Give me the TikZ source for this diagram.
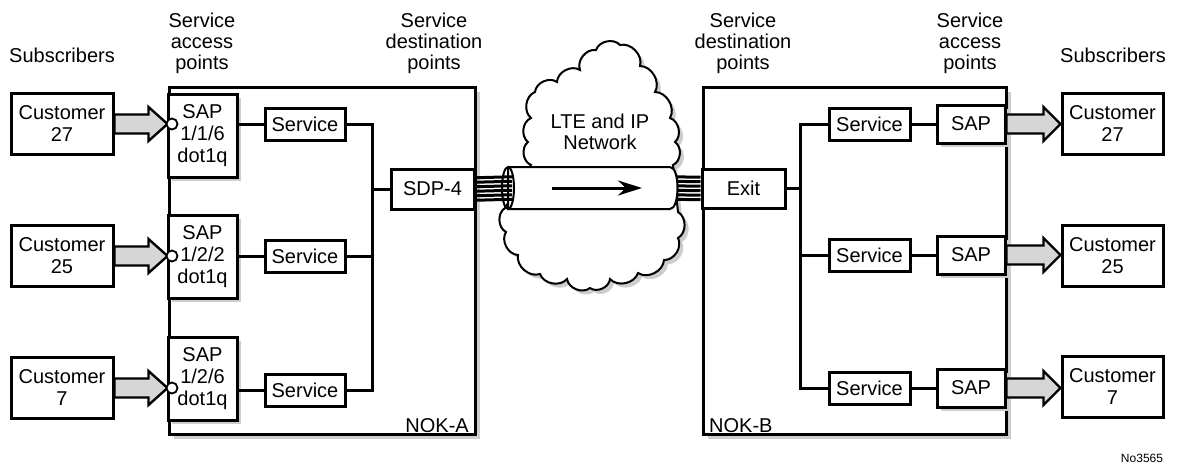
\documentclass[tikz,border=0pt]{standalone}
\usepackage{fontspec}
\setmainfont{Liberation Sans}
\usetikzlibrary{arrows.meta,shadows,calc}
\definecolor{shadowgray}{HTML}{CDCDCD}
\definecolor{arrowgray}{HTML}{D6D6D6}
\newcommand\myfs{\fontsize{20}{22}\selectfont}
\newcommand\myhfs{\fontsize{20}{21}\selectfont}
\def\mycloud{(531,165) to[bend left=60] (528,142) to[bend left=60] (531,118) to[bend left=60] (535,92)
 to[bend left=60] (557,82) to[bend left=60] (580,70) to[bend left=60] (596,50) to[bend left=60] (620,45)
 to[bend left=60] (640,66) to[bend left=60] (655,92) to[bend left=60] (670,118) to[bend left=60] (675,142)
 to[bend left=60] (673,165) -- (678,212) to[bend left=60] (678,238) to[bend left=60] (664,260)
 to[bend left=60] (638,273) to[bend left=60] (610,279) to[bend left=60] (590,288) to[bend left=60] (567,279)
 to[bend left=60] (540,274) to[bend left=60] (518,255) to[bend left=60] (506,232) to[bend left=60] (505,208) -- cycle}
\tikzset{
  box/.style={draw, line width=3pt, fill=white, inner sep=0pt, font=\myfs, align=center},
  shbox/.style={box, drop shadow={shadow xshift=4pt, shadow yshift=-4pt, fill=shadowgray, opacity=1}},
  hdr/.style={font=\myhfs, align=center, inner sep=0pt},
  conn/.style={line width=3pt},
  blockarrow/.style={draw, fill=arrowgray, line width=2.4pt, line join=miter},
  sapcirc/.style={circle, draw, fill=white, line width=1.8pt, minimum size=11pt, inner sep=0pt},
  fiber/.style={line width=3pt},
  tubeline/.style={line width=2pt},
}
\begin{document}
\begin{tikzpicture}[x=1pt,y=-1pt]
\useasboundingbox (0,0) rectangle (1177,466);

% headers
\node[hdr] (h1) at (62,55) {Subscribers};
\node[hdr] (h2) at (202,43) {Service\\access\\points};
\node[hdr] (h3) at (434,43) {Service\\destination\\points};
\node[hdr] (h4) at (743,43) {Service\\destination\\points};
\node[hdr] (h5) at (970,43) {Service\\access\\points};
\node[hdr] (h6) at (1113,55) {Subscribers};

% routers
\node[shbox, minimum width=306pt, minimum height=347pt, anchor=north west] (nokA) at (168,86) {};
\node[shbox, minimum width=303pt, minimum height=347pt, anchor=north west] (nokB) at (702,86) {};
\node[anchor=base east, font=\myfs, inner sep=0pt] (la) at ([xshift=-8pt,yshift=4pt]nokA.south east) {NOK-A};
\node[anchor=base west, font=\myfs, inner sep=0pt] (lb) at ([xshift=7pt,yshift=4pt]nokB.south west) {NOK-B};

% cloud
\fill[shadowgray, shift={(4,4)}] \mycloud;
\draw[tubeline, fill=white] \mycloud;
\node[hdr] (net) at (600,132) {LTE and IP\\Network};

% left side
\node[box, minimum width=102pt, minimum height=61pt] (c1) at (62,124) {Customer\\27};
\node[box, minimum width=102pt, minimum height=61pt] (c2) at (62,256) {Customer\\25};
\node[box, minimum width=102pt, minimum height=61pt] (c3) at (62,388) {Customer\\7};

\node[shbox, minimum width=69pt, minimum height=83pt] (sap1) at (202.5,135.5) {SAP\\1/1/6\\dot1q};
\node[shbox, minimum width=69pt, minimum height=83pt] (sap2) at (202.5,256.5) {SAP\\1/2/2\\dot1q};
\node[shbox, minimum width=69pt, minimum height=83pt] (sap3) at (202.5,378.5) {SAP\\1/2/6\\dot1q};

\node[box, minimum width=80pt, minimum height=32pt] (s1) at (305,124) {Service};
\node[box, minimum width=80pt, minimum height=32pt] (s2) at (305,256) {Service};
\node[box, minimum width=80pt, minimum height=32pt] (s3) at (305,390) {Service};

\node[box, minimum width=83pt, minimum height=40pt] (sdp) at (432.5,189) {SDP-4};

\coordinate (busA) at (372,0);
\draw[conn] (s1.west) -- (s1.west -| sap1.east);
\draw[conn] (s2.west) -- (s2.west -| sap2.east);
\draw[conn] (s3.west) -- (s3.west -| sap3.east);
\draw[conn] (s1.east) -| (busA |- s3.east) -- (s3.east);
\draw[conn] (s2.east) -- (s2.east -| busA);
\draw[conn] (sdp.west) -- (sdp.west -| busA);

% arrows customer -> SAP
\foreach \cc in {c1, c2, c3}{
  \draw[blockarrow] let \p1=(\cc.east) in
    (\x1,\y1+9.5pt) -- (\x1+34pt,\y1+9.5pt) -- (\x1+34pt,\y1+17pt) -- (\x1+53pt,\y1)
    -- (\x1+34pt,\y1-17pt) -- (\x1+34pt,\y1-9.5pt) -- (\x1,\y1-9.5pt) -- cycle;
}
\node[sapcirc] (o1) at (172,124) {};
\node[sapcirc] (o2) at (172,256) {};
\node[sapcirc] (o3) at (172,388) {};

% right side
\node[box, minimum width=83pt, minimum height=39pt] (exit) at (743.5,188.5) {Exit};
\node[box, minimum width=81pt, minimum height=32pt] (rs1) at (869.5,124) {Service};
\node[box, minimum width=81pt, minimum height=32pt] (rs2) at (869.5,255) {Service};
\node[box, minimum width=81pt, minimum height=32pt] (rs3) at (869.5,388) {Service};
\node[shbox, minimum width=68pt, minimum height=38pt] (rp1) at (971,124) {SAP};
\node[shbox, minimum width=68pt, minimum height=38pt] (rp2) at (971,255) {SAP};
\node[shbox, minimum width=68pt, minimum height=38pt] (rp3) at (971,388) {SAP};
\node[box, minimum width=101pt, minimum height=61pt] (rc1) at (1112.5,124) {Customer\\27};
\node[box, minimum width=101pt, minimum height=61pt] (rc2) at (1112.5,256) {Customer\\25};
\node[box, minimum width=101pt, minimum height=61pt] (rc3) at (1112.5,387) {Customer\\7};

\coordinate (busB) at (800,0);
\draw[conn] (rs1.west) -| (busB |- rs3.west) -- (rs3.west);
\draw[conn] (rs2.west) -- (rs2.west -| busB);
\draw[conn] (exit.east) -- (exit.east -| busB);
\draw[conn] (rs1.east) -- (rp1.west);
\draw[conn] (rs2.east) -- (rp2.west);
\draw[conn] (rs3.east) -- (rp3.west);

\foreach \aa/\bb in {rp1/rc1, rp2/rc2, rp3/rc3}{
  \draw[blockarrow] let \p1=(\aa.east), \p2=(\bb.west) in
    (\x1,\y1+9.5pt) -- (\x2-17pt,\y1+9.5pt) -- (\x2-17pt,\y1+17pt) -- (\x2,\y1)
    -- (\x2-17pt,\y1-17pt) -- (\x2-17pt,\y1-9.5pt) -- (\x1,\y1-9.5pt) -- cycle;
}

% tube
\coordinate (tubeL) at (508,188);
\coordinate (tubeR) at (671,188);
\foreach \d in {-11.25,-6.75,-2.25,2.25,6.75,11.25}{
  \draw[fiber] ([yshift=\d pt]tubeR) -- ([yshift=\d pt]exit.west);
}
\draw[tubeline, fill=white] (508,167) -- (670,167) .. controls (680,167) and (680,209) .. (670,209) -- (508,209) -- cycle;
\foreach \d in {-11.25,-6.75,-2.25,2.25,6.75,11.25}{
  \draw[fiber] ([yshift=\d pt]sdp.east) -- ([yshift=\d pt, xshift=4pt]tubeL);
}
\draw[tubeline] (tubeL) ellipse [x radius=6, y radius=21];
\coordinate (aL) at (552,188);
\coordinate (aR) at (642,188);
\draw[line width=3pt, -{Stealth[length=24pt,width=15pt]}] (aL) -- (aR);

\node[font=\fontsize{12}{14}\selectfont] (num) at (1142,458) {No3565};
\end{tikzpicture}
\end{document}
